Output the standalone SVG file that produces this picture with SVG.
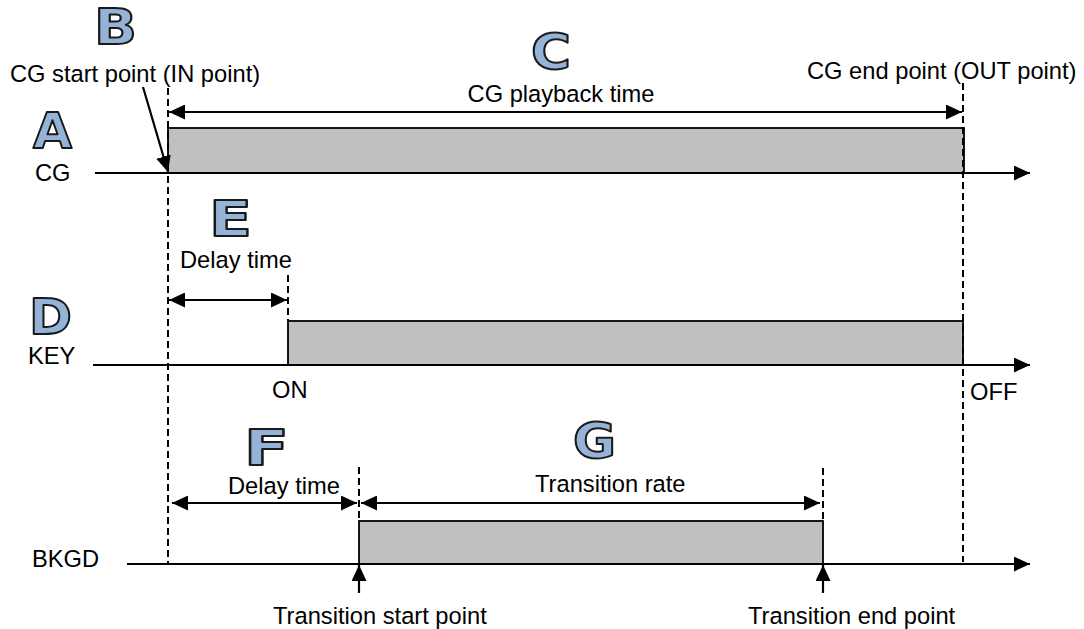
<svg xmlns="http://www.w3.org/2000/svg" width="1084" height="629" viewBox="0 0 1084 629">
<defs>
<marker id="ah" markerUnits="userSpaceOnUse" markerWidth="17" markerHeight="15" refX="16" refY="7.5" orient="auto-start-reverse">
<path d="M0,0 L16,7.5 L0,15 z" fill="#000"/>
</marker>
<style>
.t{font-family:"Liberation Sans",Arial,sans-serif;font-size:23.7px;fill:#000}
.big{font-family:"DejaVu Sans",sans-serif;font-weight:bold;font-size:50px;fill:#95B3D7;stroke:#1a1a1a;stroke-width:2;stroke-linejoin:round}
.ax{stroke:#000;stroke-width:2.2;fill:none}
.dim{stroke:#000;stroke-width:2.2;fill:none}
.dash{stroke:#000;stroke-width:2;stroke-dasharray:7 4;fill:none}
.bar{fill:#C0C0C0;stroke:#000;stroke-width:1.8}
</style>
</defs>
<rect width="1084" height="629" fill="#fff"/>

<g id="bars">
<rect class="bar" x="168" y="128" width="796" height="45"/>
<rect class="bar" x="288" y="321" width="675" height="44"/>
<rect class="bar" x="359" y="521" width="464" height="43"/>
</g>

<g id="connectors">
<line class="ax" x1="95" y1="173" x2="1030" y2="173" marker-end="url(#ah)"/>
<line class="ax" x1="93" y1="365" x2="1030" y2="365" marker-end="url(#ah)"/>
<line class="ax" x1="127" y1="564" x2="1030" y2="564" marker-end="url(#ah)"/>
<line class="dash" x1="168" y1="88" x2="168" y2="564"/>
<line class="dash" x1="963" y1="83" x2="963" y2="562"/>
<line class="dash" x1="288" y1="275" x2="288" y2="321"/>
<line class="dash" x1="359" y1="467" x2="359" y2="521"/>
<line class="dash" x1="823" y1="468" x2="823" y2="521"/>
<line class="dim" x1="169" y1="112" x2="962" y2="112" marker-start="url(#ah)" marker-end="url(#ah)"/>
<line class="dim" x1="169" y1="300" x2="287" y2="300" marker-start="url(#ah)" marker-end="url(#ah)"/>
<line class="dim" x1="172" y1="503" x2="357" y2="503" marker-start="url(#ah)" marker-end="url(#ah)"/>
<line class="dim" x1="361" y1="503" x2="820" y2="503" marker-start="url(#ah)" marker-end="url(#ah)"/>
<line class="dim" x1="143" y1="87" x2="168" y2="172" marker-end="url(#ah)"/>
<line class="dim" x1="359" y1="593" x2="359" y2="565" marker-end="url(#ah)"/>
<line class="dim" x1="823" y1="593" x2="823" y2="565" marker-end="url(#ah)"/>
</g>

<g id="letters">
<text class="big" x="94" y="44" textLength="43" lengthAdjust="spacingAndGlyphs">B</text>
<text class="big" x="33" y="148" textLength="39" lengthAdjust="spacingAndGlyphs">A</text>
<text class="big" x="531" y="69" textLength="40" lengthAdjust="spacingAndGlyphs">C</text>
<text class="big" x="29" y="334" textLength="43" lengthAdjust="spacingAndGlyphs">D</text>
<text class="big" x="209" y="236" textLength="43" lengthAdjust="spacingAndGlyphs">E</text>
<text class="big" x="244" y="465" textLength="45" lengthAdjust="spacingAndGlyphs">F</text>
<text class="big" x="573" y="458" textLength="43" lengthAdjust="spacingAndGlyphs">G</text>
</g>

<g id="labels">
<text class="t" x="10" y="82">CG start point (IN point)</text>
<text class="t" x="807" y="79">CG end point (OUT point)</text>
<text class="t" x="561" y="102" text-anchor="middle">CG playback time</text>
<text class="t" x="35" y="181">CG</text>
<text class="t" x="180" y="268">Delay time</text>
<text class="t" x="28" y="364">KEY</text>
<text class="t" x="272" y="398">ON</text>
<text class="t" x="970" y="400">OFF</text>
<text class="t" x="228" y="494">Delay time</text>
<text class="t" x="535" y="492">Transition rate</text>
<text class="t" x="32" y="567">BKGD</text>
<text class="t" x="273" y="624">Transition start point</text>
<text class="t" x="748" y="624">Transition end point</text>
</g>
</svg>
